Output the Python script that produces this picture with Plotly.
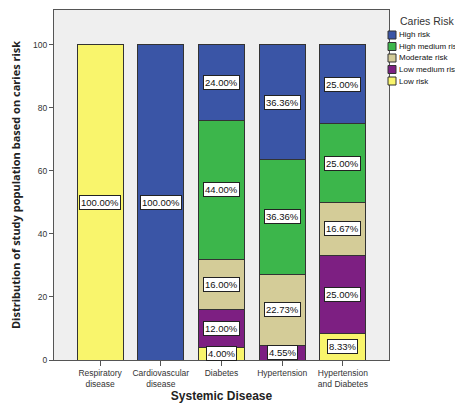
import plotly.graph_objects as go

categories = ["Respiratory<br>disease", "Cardiovascular<br>disease", "Diabetes",
              "Hypertension", "Hypertension<br>and Diabetes"]
series_names = ["Low risk", "Low medium risk", "Moderate risk", "High medium risk", "High risk"]
low_risk = [100, 0, 4.00, 0, 8.33]
low_medium_risk = [0, 0, 12.00, 4.55, 25.00]
moderate_risk = [0, 0, 16.00, 22.73, 16.67]
high_medium_risk = [0, 0, 44.00, 36.36, 25.00]
high_risk = [0, 100, 24.00, 36.36, 25.00]
y_ticks = [0, 20, 40, 60, 80, 100]
legend_title = "Caries Risk"

colors = ["#f9f56c", "#7d1f82", "#d4cc98", "#3cb64b", "#3a55a6"]
series = [low_risk, low_medium_risk, moderate_risk, high_medium_risk, high_risk]

# figure geometry (pixels); page body adds an 8px offset
W, H = 455, 399
ML, MR, MT, MB = 46, 74, 2, 47
PW, PH = W - ML - MR, H - MT - MB


def px_x(fx):
    return (fx - ML) / PW


def px_y(fy):
    return (H - MB - fy) / PH


fig = go.Figure()
for name, vals, col in zip(series_names, series, colors):
    fig.add_trace(go.Bar(
        x=categories, y=vals, name=name,
        marker=dict(color=col, line=dict(color="#333333", width=1)),
        showlegend=False,
    ))

annotations = []
for ci, cat in enumerate(categories):
    base = 0
    for vals in series:
        v = vals[ci]
        if v > 0:
            annotations.append(dict(
                x=cat, y=base + v / 2, xref="x", yref="y",
                text=f"{v:.2f}%", showarrow=False,
                font=dict(family="Liberation Sans, Arial", size=9.5, color="#111111"),
                bgcolor="white", bordercolor="#222222", borderwidth=1, borderpad=1,
            ))
        base += v

# legend (top entry = last series), drawn beside the plot
shapes = []
annotations.append(dict(
    x=px_x(419), y=px_y(13), xref="paper", yref="paper",
    text=legend_title, showarrow=False, xanchor="center", yanchor="middle",
    font=dict(family="Liberation Sans, Arial", size=10.5, color="#333333"),
))
for i, (name, col) in enumerate(zip(reversed(series_names), reversed(colors))):
    cy = 27 + i * 11.5
    shapes.append(dict(
        type="rect", xref="paper", yref="paper",
        x0=px_x(380), x1=px_x(388), y0=px_y(cy - 4), y1=px_y(cy + 4),
        fillcolor=col, line=dict(color="#333333", width=1),
    ))
    annotations.append(dict(
        x=px_x(389), y=px_y(cy), xref="paper", yref="paper",
        text=name, showarrow=False, xanchor="left", yanchor="middle",
        font=dict(family="Liberation Sans, Arial", size=8, color="#111111"),
    ))

fig.update_layout(
    barmode="stack",
    bargap=0.24,
    width=W, height=H,
    margin=dict(l=ML, r=MR, t=MT, b=MB, autoexpand=False),
    paper_bgcolor="white",
    plot_bgcolor="#efefef",
    font=dict(family="Liberation Sans, Arial", size=9, color="#333333"),
    annotations=annotations,
    shapes=shapes,
    showlegend=False,
    xaxis=dict(
        title=dict(text="<b>Systemic Disease</b>", font=dict(size=12, color="#222222"), standoff=0),
        range=[-0.76, 4.76],
        tickangle=0,
        showline=True, linecolor="#555555", mirror=True,
        ticks="outside", ticklen=5, tickcolor="#555555",
        tickfont=dict(size=8.5, color="#333333"),
    ),
    yaxis=dict(
        title=dict(text="<b>Distribution of study population based on caries risk</b>",
                   font=dict(family="Open Sans, Arial", size=11, color="#222222"), standoff=15),
        range=[0, 111.1],
        tickvals=y_ticks,
        showline=True, linecolor="#555555", mirror=True,
        ticks="outside", ticklen=4, tickcolor="#555555",
        showgrid=False, zeroline=False,
        tickfont=dict(size=8.5, color="#333333"),
    ),
)

fig.write_html("out.html")
